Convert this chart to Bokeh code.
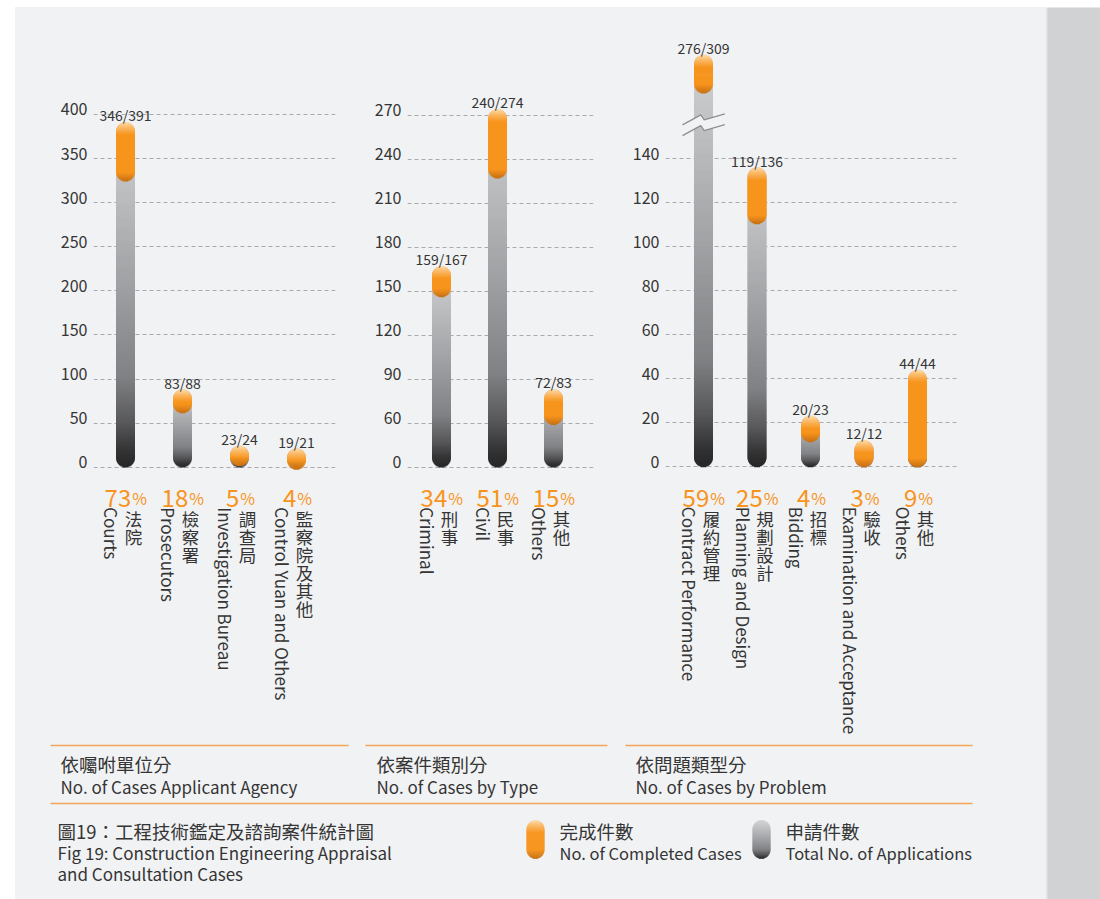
import math
from bokeh.plotting import figure
from bokeh.models import Range1d, FixedTicker, CustomJSTickFormatter, ColumnDataSource, Spacer
from bokeh.layouts import row, column
from bokeh.core.properties import value
from bokeh.embed import file_html
from bokeh.resources import INLINE

# ---------------- data ----------------
agency_zh = ["法院", "檢察署", "調查局", "監察院及其他"]
agency_en = ["Courts", "Prosecutors", "Investigation Bureau", "Control Yuan and Others"]
agency_total = [391, 88, 24, 21]
agency_done = [346, 83, 23, 19]
agency_pct = [73, 18, 5, 4]
agency_grid = [0, 50, 100, 150, 200, 250, 300, 350, 400]
agency_grid_labels = ["0", "50", "100", "150", "200", "250", "300", "350", "400"]

type_zh = ["刑事", "民事", "其他"]
type_en = ["Criminal", "Civil", "Others"]
type_total = [167, 274, 83]
type_done = [159, 240, 72]
type_pct = [34, 51, 15]
# the gridline labelled "0" sits one 30-step below 60 in the original
type_grid = [30, 60, 90, 120, 150, 180, 210, 240, 270]
type_grid_labels = ["0", "60", "90", "120", "150", "180", "210", "240", "270"]

problem_zh = ["履約管理", "規劃設計", "招標", "驗收", "其他"]
problem_en = ["Contract Performance", "Planning and Design", "Bidding",
              "Examination and Acceptance", "Others"]
problem_total = [309, 136, 23, 12, 44]
problem_done = [276, 119, 20, 12, 44]
problem_pct = [59, 25, 4, 3, 9]
problem_grid = [0, 20, 40, 60, 80, 100, 120, 140]
problem_grid_labels = ["0", "20", "40", "60", "80", "100", "120", "140"]

section_zh = ["依囑咐單位分", "依案件類別分", "依問題類型分"]
section_en = ["No. of Cases Applicant Agency", "No. of Cases by Type", "No. of Cases by Problem"]
caption_zh = "圖19：工程技術鑑定及諮詢案件統計圖"
caption_en = ["Fig 19: Construction Engineering Appraisal", "and Consultation Cases"]
legend_zh = ["完成件數", "申請件數"]
legend_en = ["No. of Completed Cases", "Total No. of Applications"]

# ---------------- style / layout ----------------
FONT = "Noto Sans CJK TC"
BG = "#f1f2f4"
BAND = "#d1d2d4"
ORANGE = "#f7941d"
TEXT = "#353535"
GRID = "#a9abae"
LINE_ORANGE = "#f2a458"

TOP_PAD, LEFT_PAD = 7, 15
FRAME_TOP, FRAME_BOTTOM = 30, 740
ROW_H = FRAME_BOTTOM - TOP_PAD
BAR_W = 19
R = BAR_W / 2
LABEL_SHIFT = 5  # px: tick labels sit on their gridline

# broken axis in the "problem" panel
BREAK_LO, BREAK_HI, ABOVE_SCALE = 156, 190, 0.262
BRK_UP_DX = [-21, -2.7, 0.7, 21.3]
BRK_UP_DY = [-1.3, 8.7, 3.7, 9.7]
BRK_GAP = 10.7


def hex_rgb(h):
    h = h.lstrip("#")
    return tuple(int(h[i:i + 2], 16) for i in (0, 2, 4))


def mix(a, b, t):
    t = min(max(t, 0.0), 1.0)
    A, B = hex_rgb(a), hex_rgb(b)
    return "#%02x%02x%02x" % tuple(int(round(A[i] + (B[i] - A[i]) * t)) for i in range(3))


def ramp(stops, t):
    for (p0, c0), (p1, c1) in zip(stops, stops[1:]):
        if t <= p1:
            return mix(c0, c1, (t - p0) / (p1 - p0) if p1 > p0 else 0)
    return stops[-1][1]


GRAY_STOPS = [(0, "#262627"), (0.05, "#343435"), (0.13, "#58585a"), (0.26, "#808184"),
              (0.55, "#a2a3a6"), (0.85, "#c2c3c5"), (1, "#d0d1d3")]


def gray_color(d, e, L):
    return ramp(GRAY_STOPS, d / L)


def orange_color(d, e, L):
    c = ORANGE
    if e < 12:
        c = mix("#fedcab", ORANGE, (e / 12) ** 0.8)
    if d < 9:
        c = mix("#c46f14", c, d / 9)
    return c


def capsule(acc, x, v_bot, v_top, k, bw, colorfn):
    """Stack of 1px slices forming a rounded bar between two data values."""
    L = abs(v_top - v_bot) * abs(k)
    r = bw / 2
    n = max(1, int(math.ceil(L)))
    h = L / n
    sgn = 1 if v_top > v_bot else -1
    for i in range(n):
        d = (i + 0.5) * h
        e = L - d
        if d < r:
            w = 2 * math.sqrt(max(r * r - (r - d) ** 2, 0))
        elif e < r:
            w = 2 * math.sqrt(max(r * r - (r - e) ** 2, 0))
        else:
            w = bw
        acc["x"].append(x)
        acc["y"].append(v_bot + sgn * d / abs(k))
        acc["w"].append(w)
        acc["h"].append(h + 0.7)
        acc["c"].append(colorfn(d, e, L))


def new_acc():
    return {"x": [], "y": [], "w": [], "h": [], "c": []}


def draw_acc(p, acc):
    p.rect(x="x", y="y", width="w", height="h", width_units="screen", height_units="screen",
           fill_color="c", line_color=None, source=ColumnDataSource(acc))


def make_panel(fig_left, width, frame_l, frame_r, x0_px, dx_px, base_px, k, base_val,
               grid_vals, grid_labels, zh, en, totals, done, pct, disp=None, broken=False):
    if disp is None:
        disp = lambda v: v
    p = figure(width=width, height=ROW_H, output_backend="svg", toolbar_location=None,
               x_axis_location=None,
               x_range=Range1d((frame_l - x0_px) / dx_px, (frame_r - x0_px) / dx_px),
               y_range=Range1d(base_val - (FRAME_BOTTOM - base_px) / k,
                               base_val + (base_px - FRAME_TOP) / k),
               min_border_left=frame_l - fig_left, min_border_right=fig_left + width - frame_r,
               min_border_top=FRAME_TOP - TOP_PAD, min_border_bottom=0)
    p.background_fill_color = None
    p.border_fill_color = BG
    p.outline_line_color = None
    p.xgrid.visible = False
    p.ygrid.ticker = FixedTicker(ticks=grid_vals)
    p.ygrid.grid_line_color = GRID
    p.ygrid.grid_line_dash = "4 3"
    p.ygrid.grid_line_width = 1
    ax = p.yaxis[0]
    ax.ticker = FixedTicker(ticks=[v + LABEL_SHIFT / k for v in grid_vals])
    ax.formatter = CustomJSTickFormatter(args=dict(labels=grid_labels), code="return labels[index];")
    ax.axis_line_color = None
    ax.major_tick_line_color = None
    ax.minor_tick_line_color = None
    ax.major_tick_out = 0
    ax.major_tick_in = 0
    ax.major_label_standoff = 6
    ax.major_label_text_font = FONT
    ax.major_label_text_font_size = "16px"
    ax.major_label_text_color = TEXT

    xs = list(range(len(totals)))
    gray = new_acc()
    orng = new_acc()
    for i, (t, d) in enumerate(zip(totals, done)):
        top = disp(t)
        capsule(gray, i, base_val, top, k, BAR_W, gray_color)
        if d == t:
            ob = base_val
        else:
            ob = disp(d) - 2 * R / k
        capsule(orng, i, ob, top, k, BAR_W, orange_color)
    draw_acc(p, gray)
    draw_acc(p, orng)

    if broken:
        for i, t in enumerate(totals):
            if t > BREAK_LO:
                ux = [i + dx / dx_px for dx in BRK_UP_DX]
                uy = [BREAK_LO + dy / k for dy in BRK_UP_DY]
                ly = [BREAK_LO + (dy - BRK_GAP) / k for dy in BRK_UP_DY]
                p.patch(ux + ux[::-1], uy + ly[::-1], fill_color=BG, line_color=None)
                p.line(ux, uy, line_color="#8e8f92", line_width=1.3)
                p.line(ux, ly, line_color="#8e8f92", line_width=1.3)

    # value labels above bars
    p.text(x=xs, y=[disp(t) for t in totals], text=[f"{d}/{t}" for d, t in zip(done, totals)],
           y_offset=-7, text_align="center", text_baseline="alphabetic",
           text_font=value(FONT), text_font_size="14px", text_color=TEXT)

    # percentages
    nums = [str(v) for v in pct]
    noff = [(len(s) * 12 + 12.5) / 2 - 12.5 for s in nums]
    psrc = ColumnDataSource(dict(x=xs, y=[base_val] * len(xs), num=nums, pc=["%"] * len(xs),
                                 noff=noff, poff=[o + 1 for o in noff]))
    p.text(x="x", y="y", text="num", x_offset="noff", y_offset=31, text_align="right",
           text_baseline="alphabetic", text_font=value(FONT), text_font_size="24px",
           text_color=ORANGE, source=psrc)
    p.text(x="x", y="y", text="pc", x_offset="poff", y_offset=31, text_align="left",
           text_baseline="alphabetic", text_font=value(FONT), text_font_size="16px",
           text_color=ORANGE, source=psrc)

    # category names: Chinese stacked upright, English rotated
    p.text(x=xs, y=[base_val] * len(xs), text=["\n".join(s) for s in zh], x_offset=8, y_offset=39,
           text_align="center", text_baseline="top", text_line_height=0.72,
           text_font=value(FONT), text_font_size="17.5px", text_color=TEXT)
    p.text(x=xs, y=[base_val] * len(xs), text=en, angle=-math.pi / 2, x_offset=-14, y_offset=40,
           text_align="left", text_baseline="middle", text_font=value(FONT),
           text_font_size="17px", text_color=TEXT)
    return p


def problem_disp(v):
    return v if v <= BREAK_LO else BREAK_LO + (v - BREAK_HI) * ABOVE_SCALE


p1 = make_panel(15, 335, 93, 335, 125, 57, 466.7, 44.1 / 50, 0,
                agency_grid, agency_grid_labels, agency_zh, agency_en,
                agency_total, agency_done, agency_pct)
p2 = make_panel(350, 260, 407, 593, 441, 56, 466.7, 44 / 30, type_grid[0],
                type_grid, type_grid_labels, type_zh, type_en,
                type_total, type_done, type_pct)
p3 = make_panel(610, 436, 665, 958, 703, 53.5, 466.3, 44 / 20, 0,
                problem_grid, problem_grid_labels, problem_zh, problem_en,
                problem_total, problem_done, problem_pct, disp=problem_disp, broken=True)

# ---------------- bottom captions / legend ----------------
pb = figure(width=1031, height=159, output_backend="svg", toolbar_location=None,
            x_axis_location=None, y_axis_location=None,
            x_range=Range1d(LEFT_PAD, 1046), y_range=Range1d(899, FRAME_BOTTOM),
            min_border_left=0, min_border_right=0, min_border_top=0, min_border_bottom=0)
pb.background_fill_color = BG
pb.border_fill_color = BG
pb.outline_line_color = None
pb.grid.visible = False

pb.segment(x0=[50, 365, 625, 50], y0=[745, 745, 745, 803], x1=[348, 607, 972, 972],
           y1=[745, 745, 745, 803], line_color=LINE_ORANGE, line_width=1.5)

# Chinese lines
pb.text(x=[60, 376, 635, 57, 559, 785], y=[763, 763, 763, 830, 830, 830],
        text=section_zh + [caption_zh] + legend_zh, text_align="left", text_baseline="middle",
        text_font=value(FONT), text_font_size="18.5px", text_color=TEXT)
# English lines (sections, caption)
pb.text(x=[60, 376, 635, 57, 57], y=[786, 786, 786, 852, 873],
        text=section_en + caption_en, text_align="left", text_baseline="middle",
        text_font=value(FONT), text_font_size="17px", text_color=TEXT)
# English legend lines
pb.text(x=[559, 785], y=[852, 852], text=legend_en, text_align="left", text_baseline="middle",
        text_font=value(FONT), text_font_size="16.5px", text_color=TEXT)

lg = new_acc()
capsule(lg, 535, 858, 820, -1, 18, orange_color)
lo = new_acc()
capsule(lo, 761, 858, 820, -1, 18, gray_color)
draw_acc(pb, lg)
draw_acc(pb, lo)

# ---------------- right band ----------------
band = figure(width=54, height=892, output_backend="svg", toolbar_location=None,
              x_axis_location=None, y_axis_location=None,
              x_range=Range1d(0, 54), y_range=Range1d(0, 892),
              min_border_left=0, min_border_right=0, min_border_top=0, min_border_bottom=0)
band.background_fill_color = BAND
band.border_fill_color = BAND
band.outline_line_color = None
band.grid.visible = False
band.segment(x0=[0.8], y0=[0], x1=[0.8], y1=[892], line_color="#dcdddf", line_width=1.5)

panels = row(p1, p2, p3, styles={"background-color": BG})
content = column(panels, pb, styles={"background-color": BG})
page = column(Spacer(width=1100, height=TOP_PAD),
              row(Spacer(width=LEFT_PAD, height=892), content, band))

open("out.html", "w").write(file_html(page, INLINE, title="Construction Engineering Appraisal"))
